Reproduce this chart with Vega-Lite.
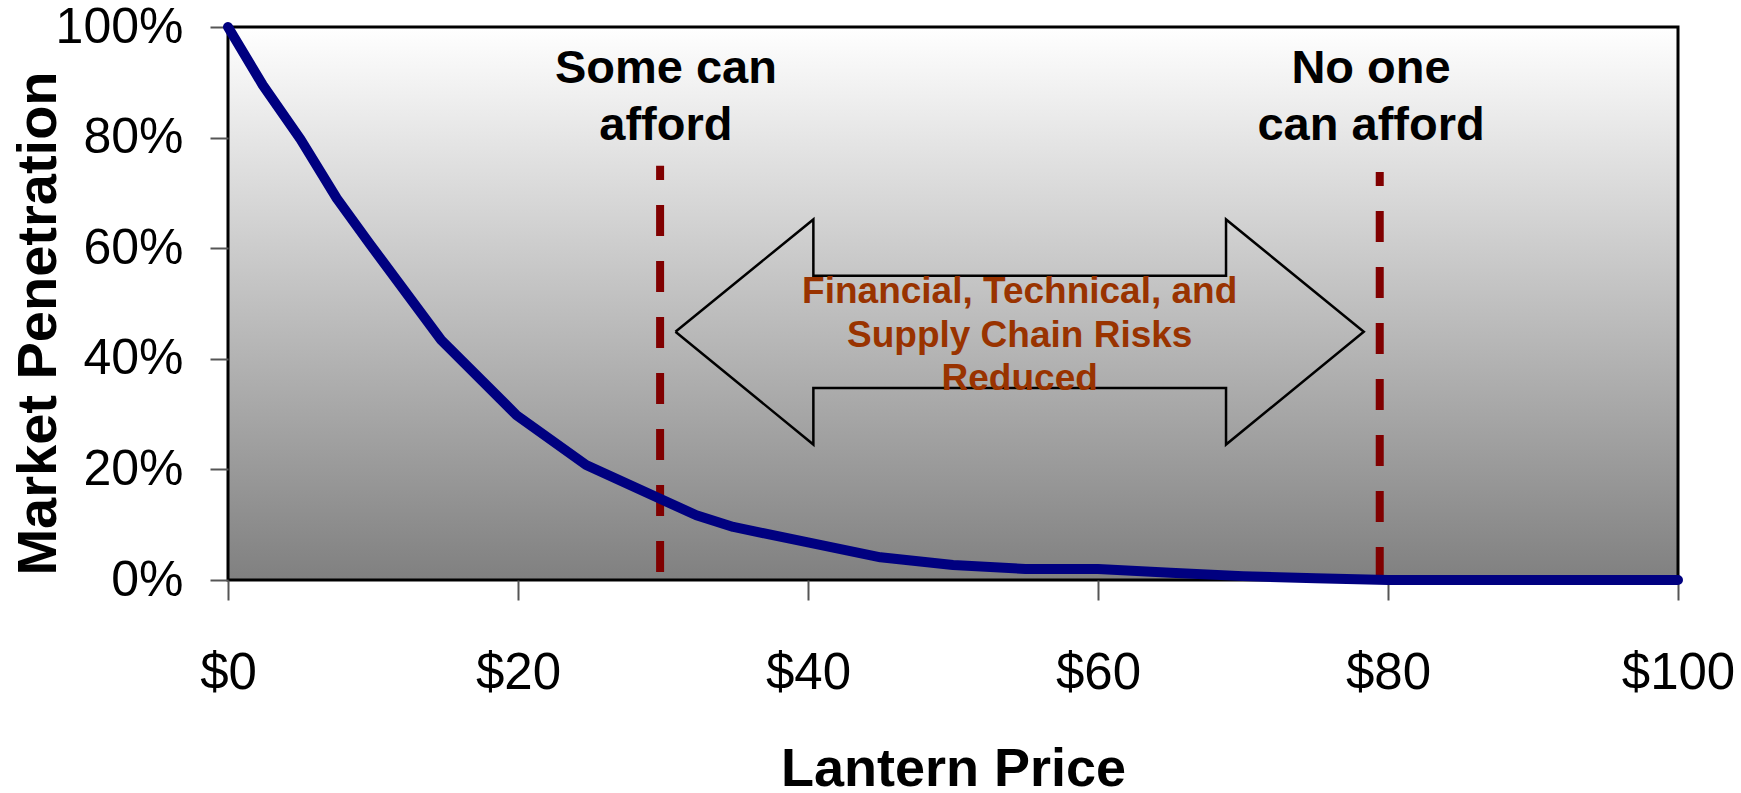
{
  "$schema": "https://vega.github.io/schema/vega-lite/v6.json",
  "width": 1450,
  "height": 553,
  "autosize": {"type": "none"},
  "padding": {"left": 228, "top": 27, "right": 63, "bottom": 213},
  "background": "white",
  "view": {
    "fill": {"gradient": "linear", "x1": 0, "y1": 0, "x2": 0, "y2": 1,
      "stops": [{"offset": 0, "color": "#ffffff"}, {"offset": 1, "color": "#808080"}]},
    "stroke": "black",
    "strokeWidth": 3
  },
  "config": {"axis": {"grid": false, "domain": false}},
  "layer": [
    {
      "data": {"values": [
        {"o": 0, "price": 30.86, "pen": 0.449},
        {"o": 1, "price": 40.37, "pen": 0.652},
        {"o": 2, "price": 40.37, "pen": 0.550},
        {"o": 3, "price": 68.83, "pen": 0.550},
        {"o": 4, "price": 68.83, "pen": 0.652},
        {"o": 5, "price": 78.33, "pen": 0.449},
        {"o": 6, "price": 68.83, "pen": 0.245},
        {"o": 7, "price": 68.83, "pen": 0.347},
        {"o": 8, "price": 40.37, "pen": 0.347},
        {"o": 9, "price": 40.37, "pen": 0.245},
        {"o": 10, "price": 30.86, "pen": 0.449}
      ]},
      "mark": {"type": "line", "color": "black", "strokeWidth": 2.5, "strokeJoin": "miter"},
      "encoding": {
        "x": {"field": "price", "type": "quantitative"},
        "y": {"field": "pen", "type": "quantitative"},
        "order": {"field": "o", "type": "quantitative"}
      }
    },
    {
      "data": {"values": [
        {"price": 29.8, "pen": 0.0145, "pen2": 0.749},
        {"price": 79.43, "pen": 0.0036, "pen2": 0.738}
      ]},
      "mark": {"type": "rule", "color": "#800000", "strokeWidth": 8, "strokeDash": [31, 25]},
      "encoding": {
        "x": {"field": "price", "type": "quantitative"},
        "y": {"field": "pen", "type": "quantitative"},
        "y2": {"field": "pen2"}
      }
    },
    {
      "data": {"values": [
        {"price": 0, "pen": 1.0},
        {"price": 2.4, "pen": 0.895},
        {"price": 5, "pen": 0.797},
        {"price": 7.5, "pen": 0.69},
        {"price": 9.8, "pen": 0.607},
        {"price": 14.7, "pen": 0.434},
        {"price": 19.9, "pen": 0.298},
        {"price": 24.7, "pen": 0.208},
        {"price": 32.3, "pen": 0.117},
        {"price": 34.85, "pen": 0.096},
        {"price": 40, "pen": 0.068},
        {"price": 45, "pen": 0.041},
        {"price": 50, "pen": 0.027},
        {"price": 55, "pen": 0.02},
        {"price": 60, "pen": 0.02},
        {"price": 65, "pen": 0.013},
        {"price": 70, "pen": 0.007},
        {"price": 75, "pen": 0.003},
        {"price": 80, "pen": 0},
        {"price": 90, "pen": 0},
        {"price": 100, "pen": 0}
      ]},
      "mark": {"type": "line", "color": "#000080", "strokeWidth": 10, "strokeCap": "round", "strokeJoin": "round"},
      "encoding": {
        "x": {
          "field": "price", "type": "quantitative",
          "scale": {"domain": [0, 100], "nice": false},
          "axis": {
            "values": [0, 20, 40, 60, 80, 100], "format": "$.0f",
            "title": "Lantern Price", "titleFont": "Liberation Sans", "titleFontWeight": "bold",
            "titleFontSize": 54, "titleColor": "black", "titleY": 205, "titleBaseline": "alphabetic",
            "labelFont": "Liberation Sans", "labelFontSize": 51, "labelColor": "black",
            "labelBaseline": "alphabetic", "labelFlush": false, "labelOverlap": false,
            "tickSize": 20, "labelPadding": 88, "tickColor": "#555", "tickWidth": 2
          }
        },
        "y": {
          "field": "pen", "type": "quantitative",
          "scale": {"domain": [0, 1], "nice": false},
          "axis": {
            "values": [0, 0.2, 0.4, 0.6, 0.8, 1], "format": ".0%",
            "title": "Market Penetration", "titleFont": "Liberation Sans", "titleFontWeight": "bold",
            "titleFontSize": 56, "titleColor": "black", "titleAngle": -90,
            "titleX": -190, "titleY": 296, "titleAlign": "center", "titleBaseline": "middle",
            "labelFont": "Liberation Sans", "labelFontSize": 50, "labelColor": "black",
            "labelAlign": "right", "labelBaseline": "middle", "labelFlush": false, "labelOverlap": false,
            "tickSize": 18, "labelPadding": 27, "tickColor": "#555", "tickWidth": 2
          }
        }
      }
    },
    {
      "data": {"values": [
        {"price": 30.2, "pen": 0.924, "t": "Some can|afford"},
        {"price": 78.83, "pen": 0.924, "t": "No one|can afford"}
      ]},
      "mark": {"type": "text", "font": "Liberation Sans", "fontWeight": "bold", "fontSize": 47,
        "lineHeight": 57, "lineBreak": "|", "align": "center", "baseline": "middle", "color": "black"},
      "encoding": {
        "x": {"field": "price", "type": "quantitative"},
        "y": {"field": "pen", "type": "quantitative"},
        "text": {"field": "t", "type": "nominal"}
      }
    },
    {
      "data": {"values": [
        {"price": 54.6, "pen": 0.52, "t": "Financial, Technical, and|Supply Chain Risks|Reduced"}
      ]},
      "mark": {"type": "text", "font": "Liberation Sans", "fontWeight": "bold", "fontSize": 37,
        "lineHeight": 43.5, "lineBreak": "|", "align": "center", "baseline": "middle", "color": "#993300"},
      "encoding": {
        "x": {"field": "price", "type": "quantitative"},
        "y": {"field": "pen", "type": "quantitative"},
        "text": {"field": "t", "type": "nominal"}
      }
    }
  ]
}
